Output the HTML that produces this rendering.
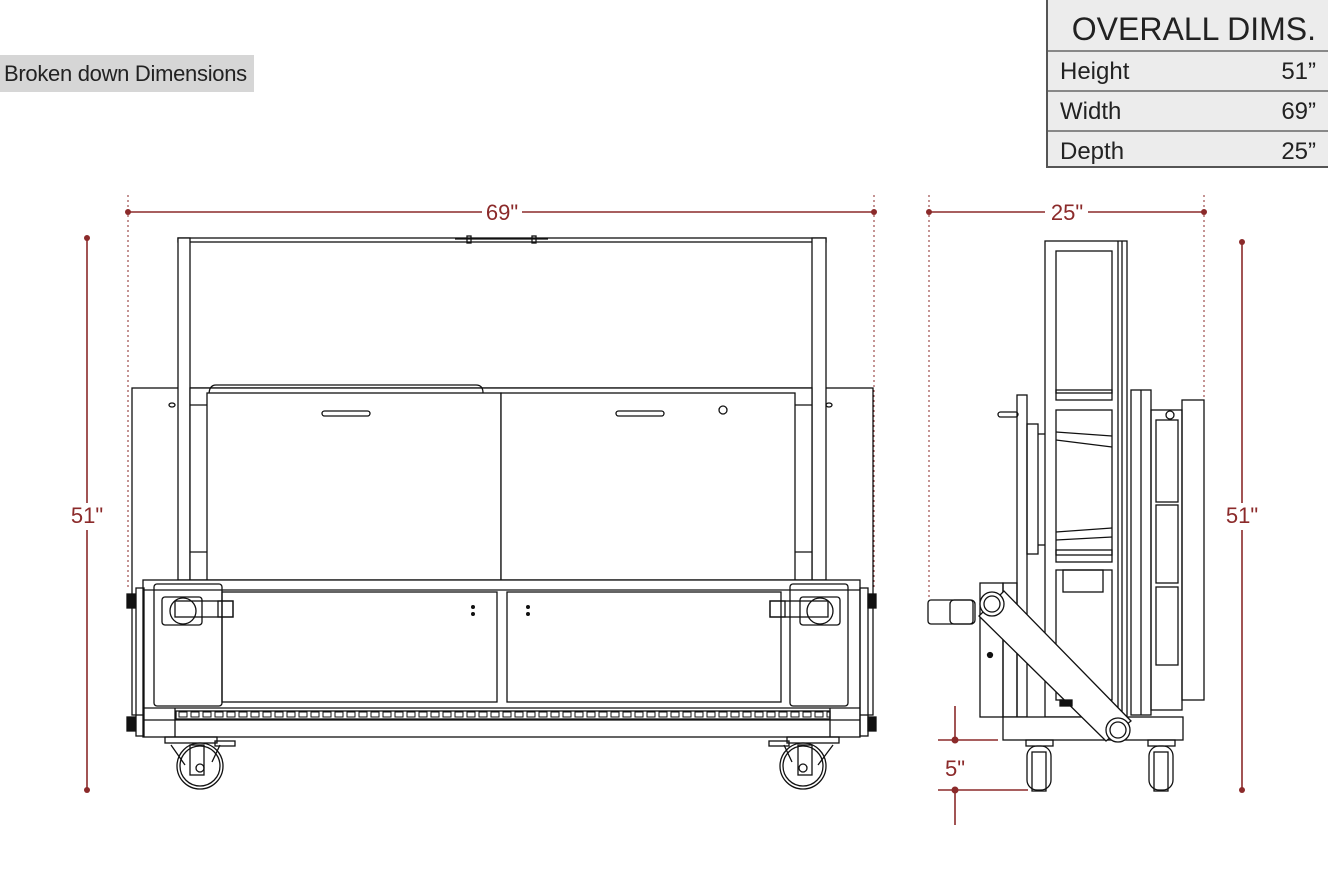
<!DOCTYPE html>
<html><head><meta charset="utf-8"><style>
html,body{margin:0;padding:0;background:#fff;}
body{width:1328px;height:880px;position:relative;overflow:hidden;font-family:"Liberation Sans",sans-serif;}
.tag{position:absolute;left:0;top:55px;width:254px;height:37px;background:#d6d6d6;font-size:22px;line-height:38px;padding-left:4px;box-sizing:border-box;color:#222;letter-spacing:-0.3px;white-space:nowrap}
.tbl{position:absolute;left:1046px;top:0;width:282px;height:168px;background:#ececec;border-left:2px solid #555;border-bottom:2px solid #555;box-sizing:border-box;color:#222}
.tbl .h{height:50px;font-size:32px;line-height:58px;text-align:right;padding-right:12px;border-bottom:2px solid #888;white-space:nowrap}
.tbl .r{height:38px;border-bottom:2px solid #888;font-size:24px;line-height:40px;padding:0 12px 0 12px;display:flex;justify-content:space-between}
.tbl .r:last-child{border-bottom:none}
svg{position:absolute;left:0;top:0}
</style></head><body>
<div class="tag">Broken down Dimensions</div>
<div class="tbl"><div class="h">OVERALL DIMS.</div>
<div class="r"><span>Height</span><span>51”</span></div>
<div class="r"><span>Width</span><span>69”</span></div>
<div class="r"><span>Depth</span><span>25”</span></div></div>
<svg width="1328" height="880" viewBox="0 0 1328 880">
<defs>
<pattern id="chain" x="178" y="711" width="12" height="8" patternUnits="userSpaceOnUse">
<rect x="1" y="1" width="8" height="5" fill="none" stroke="#111" stroke-width="1"/>
</pattern>
</defs>
<g fill="none" stroke="#8b2a2a" stroke-width="1.6">
<line x1="128" y1="212" x2="482" y2="212"/><line x1="522" y1="212" x2="874" y2="212"/>
<line x1="87" y1="238" x2="87" y2="503"/><line x1="87" y1="530" x2="87" y2="790"/>
<line x1="929" y1="212" x2="1045" y2="212"/><line x1="1088" y1="212" x2="1204" y2="212"/>
<line x1="1242" y1="242" x2="1242" y2="503"/><line x1="1242" y1="530" x2="1242" y2="790"/>
<line x1="955" y1="706" x2="955" y2="740"/><line x1="938" y1="740" x2="998" y2="740"/>
<line x1="938" y1="790" x2="1028" y2="790"/><line x1="955" y1="790" x2="955" y2="825"/>
<g stroke-dasharray="2,3" stroke-width="1">
<line x1="128" y1="195" x2="128" y2="590"/><line x1="874" y1="195" x2="874" y2="590"/>
<line x1="929" y1="195" x2="929" y2="600"/><line x1="1204" y1="195" x2="1204" y2="400"/>
</g>
</g>
<g fill="#8b2a2a">
<circle cx="128" cy="212" r="3"/><circle cx="874" cy="212" r="3"/>
<circle cx="87" cy="238" r="3"/><circle cx="87" cy="790" r="3"/>
<circle cx="929" cy="212" r="3"/><circle cx="1204" cy="212" r="3"/>
<circle cx="1242" cy="242" r="3"/><circle cx="1242" cy="790" r="3"/>
<circle cx="955" cy="740" r="3.5"/><circle cx="955" cy="790" r="3.5"/>
<g font-family="Liberation Sans,sans-serif" font-size="22" text-anchor="middle">
<text x="502" y="220">69"</text><text x="87" y="523">51"</text>
<text x="1067" y="220">25"</text><text x="1242" y="523">51"</text>
<text x="955" y="776">5"</text></g>
</g>
<!-- FRONT VIEW -->
<g fill="none" stroke="#111" stroke-width="1.3">
<rect x="132" y="388" width="741" height="327"/>
<rect x="178" y="238" width="648" height="4"/>
<rect x="178" y="238" width="12" height="342" fill="#fff"/>
<rect x="812" y="238" width="14" height="342" fill="#fff"/>
<line x1="455" y1="239" x2="548" y2="239"/>
<rect x="467" y="236" width="4" height="7"/><rect x="532" y="236" width="4" height="7"/>
<rect x="190" y="388" width="622" height="192" fill="#fff"/>
<line x1="190" y1="405" x2="207" y2="405"/><line x1="795" y1="405" x2="812" y2="405"/>
<line x1="190" y1="552" x2="207" y2="552"/><line x1="795" y1="552" x2="812" y2="552"/>
<path d="M209 395 Q209 385 216 385 L476 385 Q483 385 483 393"/>
<rect x="207" y="393" width="294" height="187" fill="#fff"/>
<rect x="501" y="393" width="294" height="187" fill="#fff"/>
<rect x="322" y="411" width="48" height="5" rx="2.5"/>
<rect x="616" y="411" width="48" height="5" rx="2.5"/>
<circle cx="723" cy="410" r="4"/>
<ellipse cx="172" cy="405" rx="3" ry="2"/><ellipse cx="829" cy="405" rx="3" ry="2"/>
<rect x="143" y="580" width="717" height="157" fill="#fff"/>
<line x1="143" y1="590" x2="860" y2="590"/>
<rect x="154" y="584" width="68" height="122" rx="3"/>
<rect x="790" y="584" width="58" height="122" rx="3"/>
<rect x="222" y="592" width="275" height="110"/>
<rect x="507" y="592" width="274" height="110"/>
<line x1="143" y1="708" x2="860" y2="708"/>
<rect x="176" y="711" width="654" height="8" fill="url(#chain)"/>
<line x1="143" y1="720" x2="860" y2="720"/>
<line x1="175" y1="708" x2="175" y2="737"/><line x1="830" y1="708" x2="830" y2="737"/>
<rect x="136" y="588" width="8" height="148"/><rect x="860" y="588" width="8" height="148"/>
<rect x="127" y="594" width="8" height="14" fill="#111"/><rect x="868" y="594" width="8" height="14" fill="#111"/>
<rect x="127" y="717" width="8" height="14" fill="#111"/><rect x="868" y="717" width="8" height="14" fill="#111"/>
<rect x="162" y="597" width="40" height="28" rx="3"/>
<rect x="175" y="601" width="58" height="16"/><rect x="218" y="601" width="15" height="16"/>
<circle cx="183" cy="611" r="13"/>
<rect x="800" y="597" width="40" height="28" rx="3"/>
<rect x="770" y="601" width="58" height="16"/><rect x="770" y="601" width="15" height="16"/>
<circle cx="820" cy="611" r="13"/>
<g fill="#111" stroke="none"><circle cx="473" cy="607" r="2"/><circle cx="473" cy="614" r="2"/><circle cx="528" cy="607" r="2"/><circle cx="528" cy="614" r="2"/></g>
<rect x="165" y="737" width="52" height="6"/><rect x="215" y="741" width="20" height="5"/>
<path d="M171 745 L185 765 M220 745 L212 762"/>
<rect x="190" y="745" width="14" height="30"/>
<circle cx="200" cy="766" r="23"/><circle cx="200" cy="766" r="20"/><circle cx="200" cy="768" r="4"/>
<rect x="787" y="737" width="52" height="6"/><rect x="769" y="741" width="20" height="5"/>
<path d="M833 745 L818 765 M784 745 L792 762"/>
<rect x="798" y="745" width="14" height="30"/>
<circle cx="803" cy="766" r="23"/><circle cx="803" cy="766" r="20"/><circle cx="803" cy="768" r="4"/>
</g>
<!-- SIDE VIEW -->
<g fill="none" stroke="#111" stroke-width="1.3">
<rect x="1182" y="400" width="22" height="300"/>
<rect x="1131" y="390" width="20" height="325"/>
<line x1="1141" y1="390" x2="1141" y2="715"/>
<rect x="1151" y="410" width="31" height="300"/>
<rect x="1156" y="420" width="22" height="82"/><rect x="1156" y="505" width="22" height="78"/><rect x="1156" y="587" width="22" height="78"/>
<circle cx="1170" cy="415" r="4"/>
<rect x="1045" y="241" width="82" height="476" fill="#fff"/>
<line x1="1118" y1="241" x2="1118" y2="717"/><line x1="1122" y1="241" x2="1122" y2="717"/>
<rect x="1056" y="251" width="56" height="142"/>
<rect x="1056" y="390" width="56" height="10"/>
<rect x="1056" y="410" width="56" height="145"/>
<path d="M1056 432 L1112 436 M1056 440 L1112 447 M1056 532 L1112 528 M1056 540 L1112 537"/>
<rect x="1056" y="550" width="56" height="12"/>
<rect x="1056" y="570" width="56" height="130"/>
<rect x="1063" y="570" width="40" height="22"/>
<rect x="1017" y="395" width="10" height="322"/>
<rect x="1027" y="424" width="11" height="130"/>
<line x1="1038" y1="434" x2="1045" y2="434"/><line x1="1038" y1="545" x2="1045" y2="545"/>
<rect x="998" y="412" width="20" height="5" rx="2.5"/>
<rect x="980" y="583" width="23" height="134"/>
<rect x="1003" y="583" width="14" height="134"/>
<circle cx="990" cy="655" r="2.5" fill="#111"/>
<rect x="928" y="600" width="45" height="24" rx="3"/>
<rect x="950" y="600" width="25" height="24" rx="4"/>
<rect x="1003" y="717" width="180" height="23" fill="#fff"/>
<path d="M979 616 L1106 741 L1131 721 L1004 591 Z" fill="#fff"/>
<circle cx="992" cy="604" r="12" fill="#fff"/><circle cx="992" cy="604" r="8"/>
<circle cx="1118" cy="730" r="12" fill="#fff"/><circle cx="1118" cy="730" r="8"/>
<rect x="1060" y="700" width="12" height="6" fill="#111"/>
<rect x="1026" y="740" width="27" height="6"/><rect x="1148" y="740" width="27" height="6"/>
<rect x="1027" y="746" width="24" height="44" rx="10"/><rect x="1032" y="752" width="14" height="39"/>
<rect x="1149" y="746" width="24" height="44" rx="10"/><rect x="1154" y="752" width="14" height="39"/>
</g>
</svg>
</body></html>
